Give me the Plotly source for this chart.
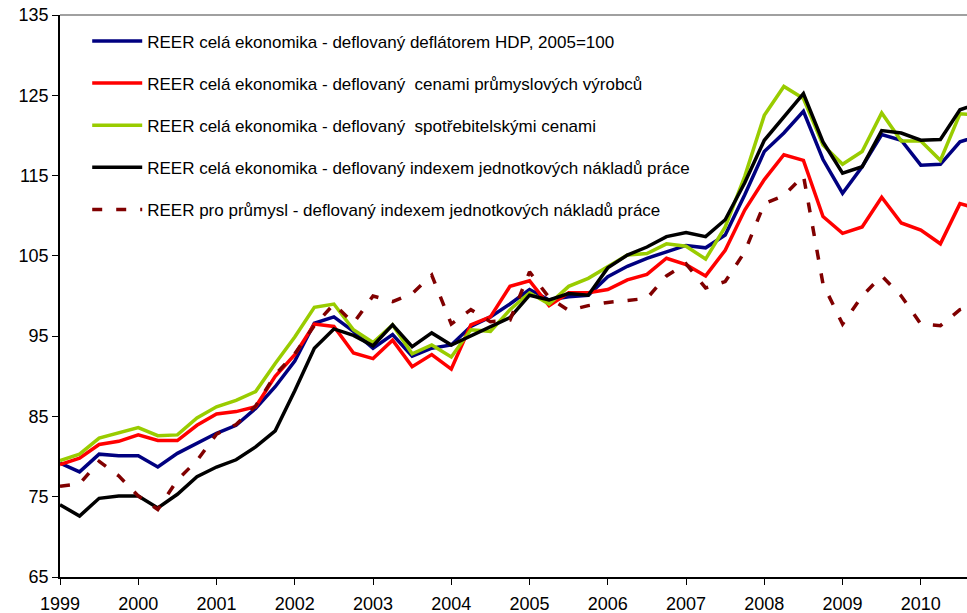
import plotly.graph_objects as go

# quarterly data, 1999Q1 .. 2010Q4
start_year = 1999
years = list(range(1999, 2011))

reer_hdp = [79.2, 78.1, 80.3, 80.1, 80.1, 78.7, 80.4, 81.7,
            82.9, 83.9, 86.0, 88.7, 91.9, 96.6, 97.4, 95.6,
            93.5, 95.2, 92.5, 93.5, 93.9, 96.2, 97.4, 99.0,
            100.8, 99.5, 99.9, 100.1, 102.4, 103.7, 104.7, 105.5,
            106.3, 106.0, 107.6, 112.6, 118.0, 120.3, 123.0, 117.0,
            112.8, 116.1, 120.1, 119.4, 116.3, 116.4, 119.2, 120.0]

reer_ppi = [79.0, 79.8, 81.5, 81.9, 82.7, 82.0, 82.0, 83.9,
            85.3, 85.6, 86.2, 90.0, 92.7, 96.5, 96.2, 92.9,
            92.2, 94.5, 91.2, 92.7, 90.9, 96.4, 97.4, 101.2,
            101.9, 98.8, 100.4, 100.4, 100.8, 102.0, 102.7, 104.7,
            103.9, 102.5, 105.7, 110.7, 114.5, 117.6, 116.9, 109.9,
            107.8, 108.6, 112.3, 109.1, 108.2, 106.5, 111.5, 110.8]

reer_cpi = [79.5, 80.3, 82.3, 83.0, 83.6, 82.6, 82.7, 84.8,
            86.2, 87.0, 88.1, 91.6, 94.9, 98.6, 99.0, 95.8,
            94.2, 96.4, 92.8, 93.9, 92.4, 95.8, 95.6, 98.3,
            100.4, 99.0, 101.2, 102.2, 103.7, 105.1, 105.3, 106.5,
            106.2, 104.6, 108.6, 114.9, 122.5, 126.1, 124.6, 118.8,
            116.4, 118.0, 122.8, 119.3, 119.3, 116.9, 122.7, 122.5]

reer_ulc = [74.0, 72.6, 74.8, 75.1, 75.1, 73.6, 75.3, 77.5,
            78.7, 79.6, 81.2, 83.2, 88.2, 93.5, 95.9, 95.1,
            93.8, 96.4, 93.7, 95.4, 93.9, 95.0, 96.2, 97.3,
            100.1, 99.5, 100.3, 100.1, 103.5, 105.1, 106.1, 107.4,
            107.9, 107.4, 109.5, 114.1, 119.4, 122.3, 125.2, 119.2,
            115.3, 116.1, 120.6, 120.3, 119.4, 119.5, 123.2, 124.0]

reer_ind_ulc = [76.3, 76.6, 79.4, 77.6, 75.1, 73.4, 77.1, 79.5,
                82.8, 84.0, 86.3, 90.2, 92.8, 96.3, 99.0, 96.6,
                100.0, 99.3, 100.3, 102.6, 96.5, 98.3, 96.8, 97.0,
                103.0, 99.8, 98.2, 98.8, 99.2, 99.5, 99.7, 102.5,
                104.0, 101.0, 101.8, 105.5, 111.5, 112.5, 115.0, 101.5,
                96.5, 100.0, 102.5, 100.0, 96.5, 96.3, 98.3, 99.0]

names = [
    "REER celá ekonomika - deflovaný deflátorem HDP, 2005=100",
    "REER celá ekonomika - deflovaný  cenami průmyslových výrobců",
    "REER celá ekonomika - deflovaný  spotřebitelskými cenami",
    "REER celá ekonomika - deflovaný indexem jednotkových nákladů práce",
    "REER pro průmysl - deflovaný indexem jednotkových nákladů práce",
]

x = [start_year + i / 4 for i in range(len(reer_hdp))]

series = [reer_hdp, reer_ppi, reer_cpi, reer_ulc, reer_ind_ulc]
colors = ["#000080", "#FF0000", "#99CC00", "#000000", "#800000"]
dashes = ["solid", "solid", "solid", "solid", "10px,14px"]

fig = go.Figure()
for k, (vals, nm, col, ds) in enumerate(zip(series, names, colors, dashes)):
    fig.add_trace(go.Scatter(
        x=x, y=vals, name=nm, mode="lines", legendgroup=str(k),
        line=dict(color=col, width=3.5, dash=ds),
    ))

# grey top border of the plot area
fig.add_shape(type="line", xref="paper", yref="paper", x0=0, x1=1, y0=1, y1=1,
              line=dict(color="#A0A0A0", width=2))

fig.update_layout(
    width=967, height=613,
    margin=dict(l=60, r=0, t=15, b=36),
    paper_bgcolor="white", plot_bgcolor="white",
    font=dict(family="Arial, Liberation Sans", size=18, color="black"),
    showlegend=True,
    legend=dict(x=0.03, y=0.985, xanchor="left", yanchor="top",
                bgcolor="rgba(0,0,0,0)", traceorder="grouped",
                tracegroupgap=17, itemwidth=50,
                font=dict(size=17)),
)
fig.update_xaxes(
    range=[1999, 2010.59], tickvals=years, ticktext=[str(y) for y in years],
    showgrid=False, zeroline=False, showline=True, linecolor="black", linewidth=1.5,
    ticks="outside", ticklen=6, tickcolor="black", ticklabelstandoff=4,
    automargin=False,
)
fig.update_yaxes(
    range=[65, 135], tickvals=list(range(65, 136, 10)),
    showgrid=False, zeroline=False, showline=True, linecolor="black", linewidth=1.5,
    ticks="outside", ticklen=6, tickcolor="black", ticklabeloverflow="allow",
    automargin=False,
)

fig.write_html("out.html", config={"displayModeBar": False})

# drop the default 8px body margin so the figure fills the window
with open("out.html", encoding="utf-8") as f:
    page = f.read()
page = page.replace("<body>", '<body style="margin:0">', 1)
with open("out.html", "w", encoding="utf-8") as f:
    f.write(page)
